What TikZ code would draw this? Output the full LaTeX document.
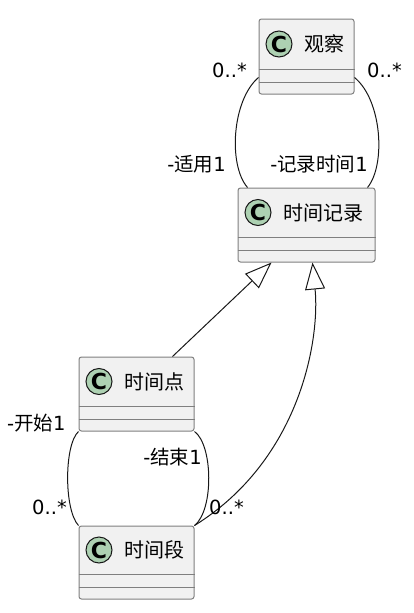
\documentclass[tikz,border=0pt]{standalone}
\usepackage{fontspec}
\setmainfont{DejaVu Sans}
\newfontfamily\cjk{Noto Sans CJK SC}
\usetikzlibrary{arrows.meta}
\definecolor{boxfill}{HTML}{F1F1F1}
\definecolor{boxline}{HTML}{7F7F7F}
\definecolor{cgreen}{HTML}{ADD1B2}
\definecolor{ink}{HTML}{181818}
\tikzset{
 classbox/.style={draw=boxline, fill=boxfill, line width=1pt, rounded corners=2.5pt, inner sep=0pt},
 sepline/.style={draw=boxline, line width=1pt},
 cicon/.style={circle, draw=ink, fill=cgreen, line width=1pt, minimum size=26pt, inner sep=0pt, font=\fontsize{22}{22}\selectfont\bfseries},
 cname/.style={anchor=west, inner sep=0pt, font=\fontsize{20}{24}\cjk, text=black},
 assoc/.style={draw=ink, line width=1pt},
 inh/.style={draw=ink, line width=1pt, -{Triangle[open, length=27pt, width=20pt]}},
 lab/.style={inner sep=0pt, font=\fontsize{19.5}{21}\selectfont, text=black},
}
\newcommand\umlclass[6]{%
  \node[classbox, minimum width={#4-#2}, minimum height={#5-#3}] (#1) at ({(#2+#4)/2},{(#3+#5)/2}) {};
  \draw[sepline] ([yshift=25pt]#1.south west) -- ([yshift=25pt]#1.south east);
  \draw[sepline] ([yshift=12pt]#1.south west) -- ([yshift=12pt]#1.south east);
  \node[cicon] (#1c) at ({#2+20},{(#3+#5-25)/2}) {C};
  \node[cname] (#1t) at ({#2+45},{(#3+#5-25)/2}) {#6};
}
\begin{document}
\begin{tikzpicture}[x=1pt,y=-1pt]
\useasboundingbox (0,0) rectangle (413,613);
\umlclass{gc}{259}{19}{354}{94}{观察}
\umlclass{rec}{238}{188}{375}{262}{时间记录}
\umlclass{pt}{79}{357}{194}{431}{时间点}
\umlclass{seg}{79}{526}{194}{599}{时间段}
% associations
\draw[assoc] ([yshift=17pt]gc.south west) .. controls (232,100) and (228,165) .. ([xshift=10pt]rec.north west);
\draw[assoc] ([yshift=17pt]gc.south east) .. controls (382,100) and (386,165) .. ([xshift=-8pt]rec.north east);
\draw[assoc] (pt.south west) .. controls (64,445) and (64,510) .. (seg.north west);
\draw[assoc] (pt.south east) .. controls (213,445) and (214,510) .. (seg.north east);
% inheritance
\draw[inh] ([xshift=36pt]pt.north) -- ([xshift=-35pt]rec.south);
\draw[inh] (seg.north east) .. controls (300,460) and (320,340) .. ([xshift=6pt]rec.south);
% labels
\node[lab, anchor=east] (l1) at (247,70) {0..*};
\node[lab, anchor=west] (l2) at (367,70) {0..*};
\node[lab, anchor=east] (l3) at (226,164) {-{\cjk 适用}1};
\node[lab, anchor=east] (l4) at (368,164) {-{\cjk 记录时间}1};
\node[lab, anchor=west] (l5) at (7,423) {-{\cjk 开始}1};
\node[lab, anchor=east] (l6) at (202,457) {-{\cjk 结束}1};
\node[lab, anchor=east] (l7) at (67,507) {0..*};
\node[lab, anchor=west] (l8) at (209,507) {0..*};
\end{tikzpicture}
\end{document}
